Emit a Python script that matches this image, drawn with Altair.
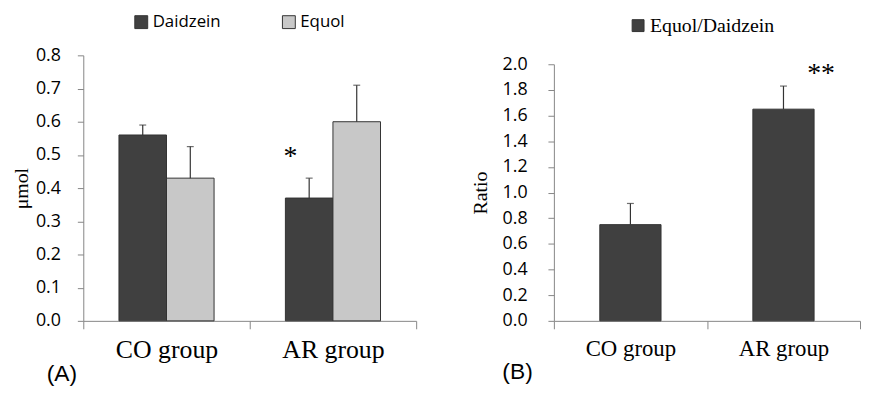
import altair as alt
import pandas as pd

# ---------------- data ----------------
groups = ["CO group", "AR group"]
compounds = ["Daidzein", "Equol"]

a_group = ["CO group", "CO group", "AR group", "AR group"]
a_compound = ["Daidzein", "Equol", "Daidzein", "Equol"]
a_mean = [0.56, 0.43, 0.37, 0.60]
a_err = [0.03, 0.095, 0.06, 0.11]
a_sig = ["", "", "*", ""]
a_sig_y = [0.0, 0.0, 0.47, 0.0]
a_ticks = [0.0, 0.1, 0.2, 0.3, 0.4, 0.5, 0.6, 0.7, 0.8]

b_group = ["CO group", "AR group"]
b_series = ["Equol/Daidzein", "Equol/Daidzein"]
b_mean = [0.75, 1.65]
b_err = [0.165, 0.18]
b_sig = ["", "**"]
b_sig_y = [0.0, 1.86]
b_ticks = [0.0, 0.2, 0.4, 0.6, 0.8, 1.0, 1.2, 1.4, 1.6, 1.8, 2.0]

df_a = pd.DataFrame({"group": a_group, "compound": a_compound,
                     "mean": a_mean, "err": a_err, "sig": a_sig, "sig_y": a_sig_y})
df_a["top"] = df_a["mean"] + df_a["err"]

df_b = pd.DataFrame({"group": b_group, "series": b_series,
                     "mean": b_mean, "err": b_err, "sig": b_sig, "sig_y": b_sig_y})
df_b["top"] = df_b["mean"] + df_b["err"]

GRAY = "#868686"
DARK = "#404040"
LIGHT = "#c8c8c8"
SERIF = "Liberation Serif"
SANS = "Open Sans"

# ---------------- panel A ----------------
xa = alt.X("group:N", sort=groups,
           scale=alt.Scale(paddingInner=0, paddingOuter=0),
           axis=alt.Axis(title=None, labelAngle=0, labelFont=SERIF, labelFontSize=26,
                         labelColor="black", tickBand="extent", tickSize=8,
                         tickColor=GRAY, domainColor=GRAY, labelPadding=8))
xoa = alt.XOffset("compound:N", sort=compounds,
                  scale=alt.Scale(paddingOuter=0.75, paddingInner=0))
ya = alt.Y("mean:Q", scale=alt.Scale(domain=[0, 0.8], nice=False),
           axis=alt.Axis(title="μmol", values=a_ticks, tickCount=len(a_ticks),
                         labelOverlap=False, format=".1f", labelFont=SANS,
                         labelFontSize=18, labelColor="black", tickSize=6, labelPadding=17,
                         tickColor=GRAY, domainColor=GRAY, grid=False,
                         titleFont=SERIF, titleFontSize=20, titleFontWeight="normal",
                         titleColor="black", titlePadding=4))

bars_a = alt.Chart(df_a).mark_bar(stroke="#333333", strokeWidth=1).encode(
    x=xa, xOffset=xoa, y=ya,
    color=alt.Color("compound:N", sort=compounds,
                    scale=alt.Scale(domain=compounds, range=[DARK, LIGHT]),
                    legend=alt.Legend(title=None, orient="none", legendX=50, legendY=-42,
                                      direction="horizontal", symbolType="square",
                                      symbolSize=169, symbolStrokeColor="#333333",
                                      symbolStrokeWidth=1, labelFont=SANS, labelFontSize=17,
                                      labelColor="black", labelOffset=3, columnPadding=60)),
)
rule_a = alt.Chart(df_a).mark_rule(color="#333333", strokeWidth=1.2).encode(
    x=xa, xOffset=xoa, y="mean:Q", y2="top:Q")
cap_a = alt.Chart(df_a).mark_tick(color="#333333", size=7, thickness=1.2).encode(
    x=xa, xOffset=xoa, y="top:Q")
sig_a = alt.Chart(df_a).transform_filter(alt.datum.sig != "").mark_text(
    font=SERIF, fontSize=28, color="black", baseline="alphabetic", dx=-19).encode(
    x=xa, xOffset=xoa, y="sig_y:Q", text="sig:N")

panel_a = alt.layer(bars_a, rule_a, cap_a, sig_a).properties(
    width=336, height=268,
    title=alt.TitleParams("(A)", orient="bottom", anchor="start", frame="group",
                          font="Liberation Sans", fontSize=23, fontWeight="normal",
                          color="black", dx=-37, offset=1))

# ---------------- panel B ----------------
xb = alt.X("group:N", sort=groups,
           scale=alt.Scale(paddingInner=0, paddingOuter=0),
           axis=alt.Axis(title=None, labelAngle=0, labelFont=SERIF, labelFontSize=23,
                         labelColor="black", tickBand="extent", tickSize=8,
                         tickColor=GRAY, domainColor=GRAY, labelPadding=9))
yb = alt.Y("mean:Q", scale=alt.Scale(domain=[0, 2.0], nice=False, range=[268, 9]),
           axis=alt.Axis(title="Ratio", values=b_ticks, tickCount=len(b_ticks),
                         labelOverlap=False, format=".1f", labelFont=SANS,
                         labelFontSize=18, labelColor="black", tickSize=6, labelPadding=21,
                         tickColor=GRAY, domainColor=GRAY, grid=False,
                         titleFont=SERIF, titleFontSize=20, titleFontWeight="normal",
                         titleColor="black", titlePadding=12))

bars_b = alt.Chart(df_b).mark_bar(stroke="#333333", strokeWidth=1,
                                  width=alt.RelativeBandSize(0.4)).encode(
    x=xb, y=yb,
    color=alt.Color("series:N",
                    scale=alt.Scale(domain=["Equol/Daidzein"], range=[DARK]),
                    legend=alt.Legend(title=None, orient="none", legendX=75, legendY=-40,
                                      direction="horizontal", symbolType="square",
                                      symbolSize=144, symbolStrokeColor="#333333",
                                      symbolStrokeWidth=1, labelFont=SERIF, labelFontSize=20,
                                      labelColor="black", labelOffset=2)),
)
rule_b = alt.Chart(df_b).mark_rule(color="#333333", strokeWidth=1.2).encode(
    x=xb, y="mean:Q", y2="top:Q")
cap_b = alt.Chart(df_b).mark_tick(color="#333333", size=7, thickness=1.2).encode(
    x=xb, y="top:Q")
sig_b = alt.Chart(df_b).transform_filter(alt.datum.sig != "").mark_text(
    font=SERIF, fontSize=28, color="black", baseline="alphabetic", dx=38).encode(
    x=xb, y="sig_y:Q", text="sig:N")

panel_b = alt.layer(bars_b, rule_b, cap_b, sig_b).properties(
    width=309, height=268,
    title=alt.TitleParams("(B)", orient="bottom", anchor="start", frame="group",
                          font="Liberation Sans", fontSize=23, fontWeight="normal",
                          color="black", dx=-52, offset=1))

chart = alt.hconcat(panel_a, panel_b, spacing=139, bounds="flush").resolve_scale(
    x="independent", y="independent", color="independent", xOffset="independent"
).properties(
    padding={"left": 3, "top": 3, "right": 0, "bottom": 0}
).configure_view(stroke="transparent").configure_axis(domainWidth=1, tickWidth=1)

chart.save("out.html", embed_options={"renderer": "svg", "actions": False})
